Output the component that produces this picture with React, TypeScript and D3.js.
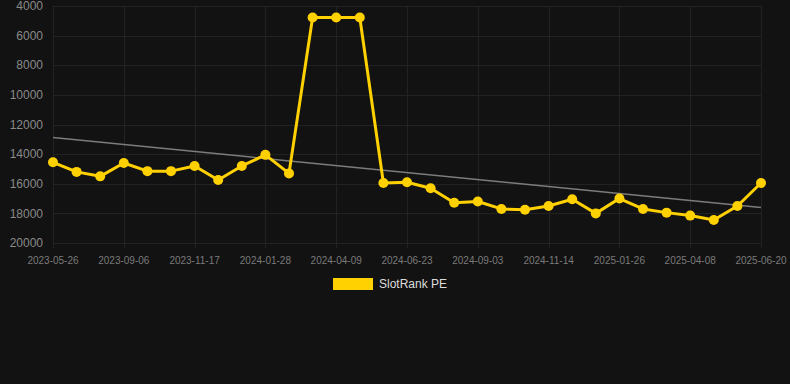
// SlotRank PE - rank history with linear trend line

import { useEffect, useRef } from "react";
import * as d3 from "d3";

const dates = [
  "2023-05-26", "2023-06-30", "2023-08-02", "2023-09-06", "2023-09-30",
  "2023-10-24", "2023-11-17", "2023-12-11", "2024-01-04", "2024-01-28",
  "2024-02-21", "2024-03-16", "2024-04-09", "2024-05-04", "2024-05-29",
  "2024-06-23", "2024-07-17", "2024-08-10", "2024-09-03", "2024-09-27",
  "2024-10-21", "2024-11-14", "2024-12-08", "2025-01-01", "2025-01-26",
  "2025-02-19", "2025-03-15", "2025-04-08", "2025-05-02", "2025-05-26",
  "2025-06-20",
];

const rank = [
  14550, 15200, 15500, 14600, 15150, 15150, 14800, 15750, 14800, 14050,
  15300, 4780, 4780, 4780, 15950, 15900, 16300, 17280, 17200, 17700,
  17750, 17500, 17050, 18000, 17000, 17700, 17950, 18150, 18450, 17500,
  15950,
];

const yTicks = [4000, 6000, 8000, 10000, 12000, 14000, 16000, 18000, 20000];
const seriesName = "SlotRank PE";

const W = 790;
const H = 384;
const M = { left: 53, right: 29, top: 6, bottom: 141 };

function Chart() {
  const svgRef = useRef<SVGSVGElement>(null);

  useEffect(() => {
    if (!svgRef.current) return;
    const svg = d3.select(svgRef.current);
    svg.selectAll("*").remove();

    const x = d3
      .scalePoint<number>()
      .domain(d3.range(dates.length))
      .range([M.left, W - M.right]);
    const y = d3
      .scaleLinear()
      .domain([4000, 20000])
      .range([M.top, H - M.bottom]);

    svg.append("rect").attr("width", W).attr("height", H).attr("fill", "#121212");

    // grid
    const grid = svg.append("g").attr("stroke", "#222222").attr("stroke-width", 1);
    grid
      .selectAll(".hg")
      .data(yTicks)
      .enter()
      .append("line")
      .attr("x1", M.left)
      .attr("x2", W - M.right)
      .attr("y1", (d) => Math.round(y(d)) + 0.5)
      .attr("y2", (d) => Math.round(y(d)) + 0.5);

    const labelIdx = d3.range(0, dates.length, 3);
    grid
      .selectAll(".vg")
      .data(labelIdx)
      .enter()
      .append("line")
      .attr("x1", (i) => Math.round(x(i)!) + 0.5)
      .attr("x2", (i) => Math.round(x(i)!) + 0.5)
      .attr("y1", M.top)
      .attr("y2", H - M.bottom + 5);

    // y labels
    svg
      .append("g")
      .selectAll("text")
      .data(yTicks)
      .enter()
      .append("text")
      .attr("x", 43)
      .attr("y", (d) => y(d))
      .attr("dy", "0.35em")
      .attr("text-anchor", "end")
      .attr("fill", "#8a8a8a")
      .style("font-family", "Arial, 'Liberation Sans', sans-serif")
      .style("font-size", "12px")
      .text((d) => d);

    // x labels
    svg
      .append("g")
      .selectAll("text")
      .data(labelIdx)
      .enter()
      .append("text")
      .attr("x", (i) => x(i)!)
      .attr("y", 260)
      .attr("dy", "0.35em")
      .attr("text-anchor", "middle")
      .attr("fill", "#7a7a7a")
      .style("font-family", "Arial, 'Liberation Sans', sans-serif")
      .style("font-size", "10px")
      .text((i) => dates[i]);

    // linear trend (least squares)
    const xs = d3.range(rank.length);
    const mx = d3.mean(xs)!;
    const my = d3.mean(rank)!;
    const slope =
      d3.sum(xs, (i) => (i - mx) * (rank[i] - my)) /
      d3.sum(xs, (i) => (i - mx) * (i - mx));
    const b = my - slope * mx;
    const last = rank.length - 1;
    svg
      .append("line")
      .attr("x1", x(0)!)
      .attr("y1", y(b))
      .attr("x2", x(last)!)
      .attr("y2", y(b + slope * last))
      .attr("stroke", "#7c7c7c")
      .attr("stroke-width", 1.5);

    // series
    const line = d3
      .line<number>()
      .x((_, i) => x(i)!)
      .y((d) => y(d));
    svg
      .append("path")
      .datum(rank)
      .attr("d", line)
      .attr("fill", "none")
      .attr("stroke", "#ffd100")
      .attr("stroke-width", 3)
      .attr("stroke-linejoin", "round");

    svg
      .append("g")
      .selectAll("circle")
      .data(rank)
      .enter()
      .append("circle")
      .attr("cx", (_, i) => x(i)!)
      .attr("cy", (d) => y(d))
      .attr("r", 5)
      .attr("fill", "#ffd100");

    // legend
    const lg = svg.append("g");
    lg.append("rect")
      .attr("x", 333)
      .attr("y", 278)
      .attr("width", 40)
      .attr("height", 12)
      .attr("fill", "#ffd100");
    lg.append("text")
      .attr("x", 379)
      .attr("y", 284)
      .attr("dy", "0.35em")
      .attr("fill", "#dddddd")
      .style("font-family", "Arial, 'Liberation Sans', sans-serif")
      .style("font-size", "12px")
      .text(seriesName);
  }, []);

  return <svg ref={svgRef} width={W} height={H} style={{ display: "block" }} />;
}

export default function App() {
  return (
    <div style={{ position: "fixed", left: 0, top: 0, width: W, height: H, background: "#121212" }}>
      <Chart />
    </div>
  );
}
